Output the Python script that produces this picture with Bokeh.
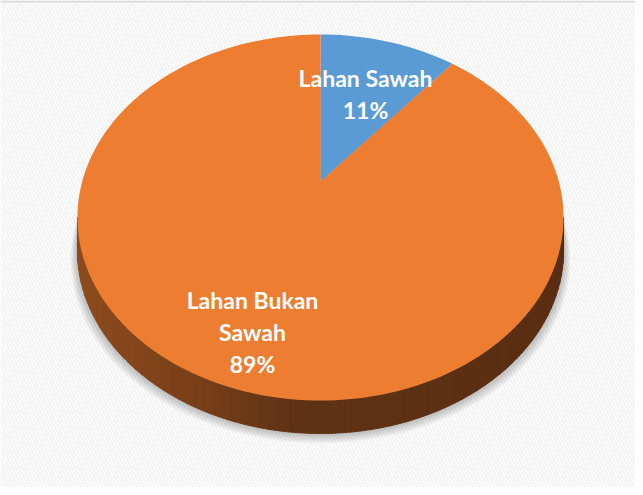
import numpy as np
from bokeh.plotting import figure
from bokeh.models import Range1d
from bokeh.embed import file_html
from bokeh.resources import INLINE
from bokeh.core.properties import value

# ---- data ----
categories = ["Lahan Sawah", "Lahan Bukan Sawah"]
shares = [11, 89]
label_wrap = [["Lahan Sawah"], ["Lahan Bukan", "Sawah"]]
colors = ["#5b9bd5", "#ed7d31"]

# ---- 3D perspective geometry (style) ----
CX, A, K, P, Q, DEPTH = 328.0, 238.3, 0.1967, -138.74, 189.0, 33.0
label_pos = [(373, 85), (260, 307)]
LINE_H = 32


def proj(t):
    u = np.cos(t)
    v = np.sin(t)
    w = 1 + K * v
    return CX + A * u / w, (P * v + Q) / w


p = figure(width=635, height=487, x_range=Range1d(8, 643), y_range=Range1d(495, 8),
           output_backend="svg", toolbar_location=None, min_border=0,
           background_fill_color="white", border_fill_color="white")
p.axis.visible = False
p.grid.visible = False
p.outline_line_color = None

# background with faint diagonal stripes and top border
p.quad(left=8, right=643, top=8, bottom=495, fill_color="white", line_color=None,
       hatch_pattern="\\", hatch_color="#f3f3f3", hatch_scale=7, hatch_weight=2)
p.quad(left=8, right=643, top=8, bottom=10, fill_color="#d9d9d9", line_color=None)

# soft shadow
tt = np.linspace(0, 2 * np.pi, 240)
ex, ey = proj(tt)
for i in range(1, 8):
    s = 1 + i * 0.004
    p.patch(CX + (ex - CX) * s, ey + DEPTH + i * 1.4, fill_color="black",
            fill_alpha=0.035, line_color=None)

# side wall with gradient
tL = np.pi + np.arcsin(K)
tR = 2 * np.pi - np.arcsin(K)
N = 80
edges = np.linspace(tL, tR, N + 1)
stops_x = [85, 200, 300, 571]
stops_c = np.array([[0x8e, 0x4c, 0x1f], [0x7a, 0x40, 0x19], [0x61, 0x33, 0x15], [0x5a, 0x2e, 0x12]])
xs_list, ys_list, cols = [], [], []
for i in range(N):
    seg = np.linspace(edges[i], edges[i + 1], 4)
    sx, sy = proj(seg)
    xs_list.append(list(sx) + list(sx[::-1]))
    ys_list.append(list(sy) + list((sy + DEPTH)[::-1]))
    mx = sx.mean()
    c = [int(np.interp(mx, stops_x, stops_c[:, j])) for j in range(3)]
    cols.append("#%02x%02x%02x" % tuple(c))
p.patches(xs=xs_list, ys=ys_list, fill_color=cols, line_color=cols, line_width=1)

# top face wedges (clockwise from 12 o'clock)
total = float(sum(shares))
start = np.pi / 2
wx, wy = [], []
for s in shares:
    end = start - 2 * np.pi * s / total
    seg = np.linspace(start, end, max(8, int(200 * s / total)))
    sx, sy = proj(seg)
    wx.append([CX] + list(sx))
    wy.append([Q] + list(sy))
    start = end
p.patches(xs=wx, ys=wy, fill_color=colors, line_color=None)

# labels
lx, ly, lt = [], [], []
for (x0, y0), lines, s in zip(label_pos, label_wrap, shares):
    for j, ln in enumerate(lines + [f"{s}%"]):
        lx.append(x0)
        ly.append(y0 + j * LINE_H)
        lt.append(ln)
p.text(x=lx, y=ly, text=lt, text_font=value("Lato"), text_font_style="bold",
       text_font_size="23px", text_color="white", text_align="center",
       text_baseline="alphabetic")

open("out.html", "w").write(file_html(p, INLINE))
